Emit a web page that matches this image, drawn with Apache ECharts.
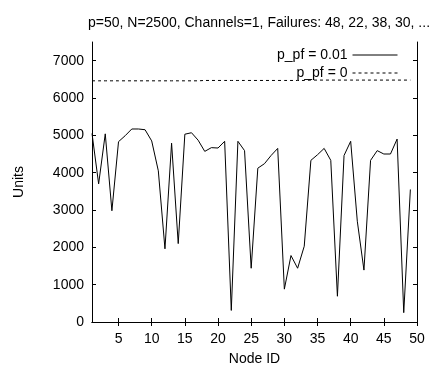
<!DOCTYPE html>
<html><head><meta charset="utf-8">
<script src="https://cdn.jsdelivr.net/npm/echarts@6/dist/echarts.min.js"></script>
<style>html,body{margin:0;padding:0;background:#fff}#c{width:448px;height:371px}</style>
</head><body><div id="c"></div>
<script>
var titleText = 'p=50, N=2500, Channels=1, Failures: 48, 22, 38, 30, ...';
var nodeIds = [1,2,3,4,5,6,7,8,9,10,11,12,13,14,15,16,17,18,19,20,21,22,23,24,25,26,27,28,29,30,31,32,33,34,35,36,37,38,39,40,41,42,43,44,45,46,47,48,49];
var seriesNames = ['p_pf = 0.01', 'p_pf = 0'];
var unitsPf001 = [5050,3700,5040,2980,4830,4990,5170,5170,5150,4850,4050,1960,4790,2100,5030,5070,4870,4570,4670,4660,4840,310,4840,4590,1440,4120,4240,4460,4650,880,1780,1440,2030,4330,4480,4650,4330,690,4460,4840,2700,1390,4330,4590,4500,4500,4900,250,3550];
var unitsPf0 = [6460,6460,6460,6460,6460,6460,6460,6460,6460,6460,6460,6460,6460,6460,6460,6460,6460,6470,6470,6470,6470,6470,6470,6470,6470,6470,6470,6470,6470,6470,6470,6470,6470,6480,6480,6480,6480,6480,6480,6480,6480,6480,6480,6480,6480,6480,6480,6480,6480];
var xTicks = [5,10,15,20,25,30,35,40,45,50];
var yTicks = [0,1000,2000,3000,4000,5000,6000,7000];

var font = 'Liberation Sans, Arial, Helvetica, sans-serif';
function pairs(v){ return nodeIds.map(function(id,i){ return [id, v[i]]; }); }
var axisLine = {show:true, lineStyle:{color:'#000', width:1}};
var chart = echarts.init(document.getElementById('c'));
chart.setOption({
  animation:false,
  title:{text:titleText, left:254, top:11, textAlign:'center',
    textStyle:{fontFamily:font, fontSize:14, fontWeight:'normal', color:'#000'}},
  grid:{left:92, right:31, top:42, bottom:46, containLabel:false},
  legend:{orient:'vertical', right:50, top:48, align:'right', padding:0,
    itemWidth:45, itemHeight:13, itemGap:4,
    itemStyle:{opacity:0, color:'transparent', borderColor:'transparent'},
    lineStyle:{width:1},
    textStyle:{fontFamily:font, fontSize:14, color:'#000'},
    data:seriesNames},
  xAxis:[
    {type:'value', min:1, max:50, position:'bottom', name:'Node ID', nameLocation:'middle', nameGap:30,
      nameTextStyle:{fontFamily:font, fontSize:14, color:'#000'},
      axisLine:axisLine, splitLine:{show:false},
      axisTick:{inside:true, length:4, customValues:xTicks, lineStyle:{color:'#000'}},
      axisLabel:{customValues:xTicks, fontFamily:font, fontSize:14, color:'#000', margin:10}},
    {type:'value', min:1, max:50, position:'top',
      axisLine:axisLine, splitLine:{show:false},
      axisTick:{inside:true, length:4, customValues:xTicks, lineStyle:{color:'#000'}},
      axisLabel:{show:false}}
  ],
  yAxis:[
    {type:'value', min:0, max:7500, position:'left', name:'Units', nameLocation:'middle', nameGap:66,
      nameTextStyle:{fontFamily:font, fontSize:14, color:'#000'},
      axisLine:axisLine, splitLine:{show:false},
      axisTick:{inside:true, length:4, customValues:yTicks, lineStyle:{color:'#000'}},
      axisLabel:{customValues:yTicks, formatter:function(v){return String(v);}, fontFamily:font, fontSize:14, color:'#000', margin:8}},
    {type:'value', min:0, max:7500, position:'right',
      axisLine:axisLine, splitLine:{show:false},
      axisTick:{inside:true, length:4, customValues:yTicks, lineStyle:{color:'#000'}},
      axisLabel:{show:false}}
  ],
  series:[
    {name:seriesNames[0], type:'line', data:pairs(unitsPf001), symbol:'none', color:'#000',
      lineStyle:{color:'#000', width:1}},
    {name:seriesNames[1], type:'line', data:pairs(unitsPf0), symbol:'none', color:'#000',
      lineStyle:{color:'#000', width:1, type:[3,3]}}
  ]
});
</script></body></html>
